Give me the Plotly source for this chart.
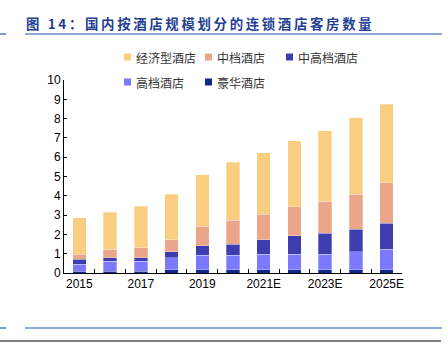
import plotly.graph_objects as go

years = ["2015", "2016", "2017", "2018", "2019", "2020", "2021E", "2022E", "2023E", "2024E", "2025E"]
tick_labels = ["2015", "", "2017", "", "2019", "", "2021E", "", "2023E", "", "2025E"]

luxury = [0.10, 0.10, 0.10, 0.16, 0.16, 0.16, 0.16, 0.16, 0.16, 0.16, 0.16]
upscale = [0.36, 0.50, 0.50, 0.62, 0.75, 0.76, 0.82, 0.82, 0.82, 0.95, 1.07]
upper_mid = [0.25, 0.19, 0.19, 0.31, 0.51, 0.57, 0.75, 0.94, 1.08, 1.17, 1.36]
midscale = [0.25, 0.44, 0.51, 0.64, 0.99, 1.24, 1.31, 1.50, 1.67, 1.81, 2.09]
economy = [1.90, 1.93, 2.17, 2.36, 2.69, 3.00, 3.19, 3.44, 3.63, 3.96, 4.06]

names = ["豪华酒店", "高档酒店", "中高档酒店", "中档酒店", "经济型酒店"]
colors = ["#12278C", "#7B79FD", "#3E3DB0", "#EBA588", "#FACE80"]
series = [luxury, upscale, upper_mid, midscale, economy]

# plot area in pixels
L, R, T, B = 64, 46, 80, 72
W, H = 448, 345
PW, PH = W - L - R, H - T - B


def px(x):
    return (x - L) / PW


def py(y):
    return (H - B - y) / PH


# legend layout: (marker left px, row centre px)
leg_pos = {
    "经济型酒店": (124, 57),
    "中档酒店": (205, 57),
    "中高档酒店": (286, 57),
    "高档酒店": (124, 82),
    "豪华酒店": (205, 82),
}

fig = go.Figure()
for name, col, vals in zip(names, colors, series):
    fig.add_trace(go.Bar(
        x=years, y=vals, name=name, showlegend=False,
        marker=dict(color=col, line=dict(width=0.5, color="rgba(255,255,255,0.6)")),
    ))
    mx, my = leg_pos[name]
    fig.add_shape(type="rect", xref="paper", yref="paper",
                  x0=px(mx), x1=px(mx + 7), y0=py(my + 3.5), y1=py(my - 3.5),
                  fillcolor=col, line=dict(width=0))
    fig.add_annotation(xref="paper", yref="paper", x=px(mx + 10), y=py(my),
                       xanchor="left", yanchor="middle", showarrow=False,
                       text=name, font=dict(family="Noto Sans CJK SC", size=12, color="#333333"))

fig.update_layout(
    width=W, height=H,
    margin=dict(l=L, r=R, t=T, b=B),
    paper_bgcolor="white", plot_bgcolor="white",
    barmode="stack", bargap=0.56,
    title=dict(
        text="<b>" + "\u2009".join("图 14：国内按酒店规模划分的连锁酒店客房数量") + "</b>",
        x=26 / W, y=1 - 24 / H, xanchor="left", yanchor="middle",
        xref="container", yref="container",
        font=dict(family="Noto Sans CJK SC", size=13.4, color="#1F3F95"),
    ),
    xaxis=dict(
        type="category", tickvals=years, ticktext=tick_labels, tickangle=0,
        tickson="boundaries", ticks="inside", ticklen=4, tickcolor="black",
        showline=True, linecolor="black", linewidth=1,
        showgrid=False, zeroline=False,
        tickfont=dict(family="Liberation Sans", size=12, color="black"),
    ),
    yaxis=dict(
        range=[0, 10], dtick=1, ticks="inside", ticklen=3, tickcolor="black",
        showline=True, linecolor="black", linewidth=1,
        showgrid=False, zeroline=False,
        tickfont=dict(family="Liberation Sans", size=12, color="black"),
    ),
    showlegend=False,
)

line_blue = "#2450B0"
shapes = [
    dict(x0=px(25), x1=px(442), y0=py(34), y1=py(34), color=line_blue, w=1.2),
    dict(x0=px(0), x1=px(6), y0=py(34), y1=py(34), color=line_blue, w=1.2),
    dict(x0=px(25), x1=px(442), y0=py(328), y1=py(328), color=line_blue, w=1.2),
    dict(x0=px(0), x1=px(6), y0=py(328), y1=py(328), color=line_blue, w=1.2),
    dict(x0=px(0), x1=px(441), y0=py(341), y1=py(341), color="black", w=1.2),
]
for s in shapes:
    fig.add_shape(type="line", xref="paper", yref="paper",
                  x0=s["x0"], x1=s["x1"], y0=s["y0"], y1=s["y1"],
                  line=dict(color=s["color"], width=s["w"]))

fig.write_html("out.html")
